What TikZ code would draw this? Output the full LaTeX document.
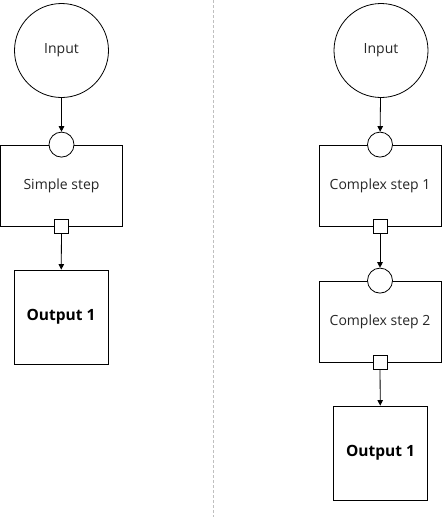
\documentclass[tikz,border=0pt]{standalone}
\usepackage{fontspec}
\setmainfont{Open Sans}
\usetikzlibrary{arrows.meta}
\begin{document}
\begin{tikzpicture}[x=1pt,y=-1pt,
 every node/.style={font=\fontsize{14}{16}\selectfont, text=black!85},
 bigcirc/.style={circle,draw,line width=0.8pt,minimum size=94pt,inner sep=0pt},
 stepbox/.style={draw,line width=0.8pt,minimum width=122pt,minimum height=81pt,inner sep=0pt},
 outbox/.style={draw,line width=0.8pt,minimum size=94pt,inner sep=0pt,font=\fontsize{15.5}{17}\selectfont\bfseries,text=black},
 inport/.style={circle,draw,fill=white,line width=0.8pt,minimum size=25pt,inner sep=0pt},
 outport/.style={draw,fill=white,line width=0.8pt,minimum size=14pt,inner sep=0pt},
 conn/.style={line width=0.8pt,-{Triangle[length=5.5pt,width=5.5pt]}},
 sep/.style={draw=black!25,line width=0.8pt,dash pattern=on 3pt off 2pt}
]
\useasboundingbox (0,0) rectangle (442,517);
% separator
\coordinate (dtop) at (213,0);
\coordinate (dbot) at (213,517);
\draw[sep] (dtop) -- (dbot);
% left column
\node[bigcirc] (inL) at (61.5,50.5) {Input};
\node[stepbox] (simple) at (61.5,185.5) {Simple step};
\node[inport] (simpleIn) at (simple.north) {};
\node[outport] (simpleOut) at (simple.south) {};
\node[outbox] (outL) at (61,317) {Output 1};
\draw[conn] (inL) -- (simpleIn);
\draw[conn] (simpleOut) -- (outL);
% right column
\node[bigcirc] (inR) at (381,50.5) {Input};
\node[stepbox] (cx1) at (380,185.5) {Complex step 1};
\node[inport] (cx1In) at (cx1.north) {};
\node[outport] (cx1Out) at (cx1.south) {};
\node[stepbox] (cx2) at (380,321.5) {Complex step 2};
\node[inport] (cx2In) at (cx2.north) {};
\node[outport] (cx2Out) at (cx2.south) {};
\node[outbox] (outR) at (380.5,453) {Output 1};
\draw[conn] (inR) -- (cx1In);
\draw[conn] (cx1Out) -- (cx2In);
\draw[conn] (cx2Out) -- (outR);
\end{tikzpicture}
\end{document}
